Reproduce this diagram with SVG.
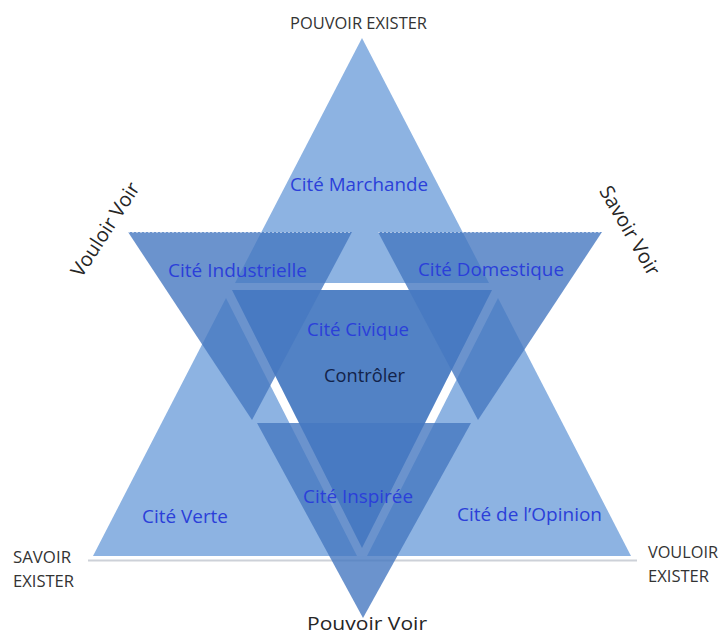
<svg xmlns="http://www.w3.org/2000/svg" width="720" height="637" viewBox="0 0 720 637">
<style>
.up{fill:#8db3e2}
.civ{fill:#5282c5}
.down{fill:#4678c0;fill-opacity:.8}
.edge{stroke:#ffffff;stroke-opacity:.5;stroke-width:1;stroke-dasharray:2 2;fill:none}
.lbl{font-family:"Open Sans","Noto Sans",sans-serif;font-size:18px;fill:#2b3fd9;text-anchor:middle}
.dark{font-family:"Open Sans","Noto Sans",sans-serif;font-size:18px;fill:#13234a;text-anchor:middle}
.cap{font-family:"Open Sans","Noto Sans",sans-serif;font-size:16px;fill:#333333}
.axis{font-family:"Open Sans","Noto Sans",sans-serif;font-size:20px;fill:#262626;text-anchor:middle}
</style>
<rect width="720" height="637" fill="#ffffff"/>

<g id="base-line">
  <line x1="88" y1="560.5" x2="637" y2="560.5" stroke="#cdd1d8" stroke-width="2"/>
</g>

<g id="cite-marchande">
  <polygon class="up" points="362,38 235,283 489,283"/>
  <text class="lbl" x="359" y="191" textLength="138" lengthAdjust="spacingAndGlyphs">Cité Marchande</text>
</g>

<g id="cite-verte">
  <polygon class="up" points="226,298 93,556 357,556"/>
  <text class="lbl" x="185" y="523" textLength="86" lengthAdjust="spacingAndGlyphs">Cité Verte</text>
</g>

<g id="cite-opinion">
  <polygon class="up" points="498,298 367,556 631,556"/>
  <text class="lbl" x="529.5" y="521" textLength="145" lengthAdjust="spacingAndGlyphs">Cité de l’Opinion</text>
</g>

<g id="cite-civique">
  <polygon class="civ" points="232,290 492,290 362,548"/>
  <text class="lbl" x="358" y="336" textLength="102" lengthAdjust="spacingAndGlyphs">Cité Civique</text>
  <text class="dark" x="364.5" y="382" textLength="81" lengthAdjust="spacingAndGlyphs">Contrôler</text>
</g>

<g id="cite-industrielle">
  <polygon class="down" points="128,232 352,232 252,420"/>
  <line class="edge" x1="128" y1="232.5" x2="352" y2="232.5"/>
  <text class="lbl" x="237.5" y="277" textLength="139" lengthAdjust="spacingAndGlyphs">Cité Industrielle</text>
</g>

<g id="cite-domestique">
  <polygon class="down" points="378,232 602,232 478,420"/>
  <line class="edge" x1="378" y1="232.5" x2="602" y2="232.5"/>
  <text class="lbl" x="491" y="276" textLength="146" lengthAdjust="spacingAndGlyphs">Cité Domestique</text>
</g>

<g id="cite-inspiree">
  <polygon class="down" points="257,423 471,423 363,618"/>
  <text class="lbl" x="358" y="503" textLength="110" lengthAdjust="spacingAndGlyphs">Cité Inspirée</text>
</g>

<g id="axis-labels">
  <text class="cap" x="358.5" y="29" text-anchor="middle" textLength="137" lengthAdjust="spacingAndGlyphs">POUVOIR EXISTER</text>
  <text class="cap" x="13" y="563" textLength="58" lengthAdjust="spacingAndGlyphs">SAVOIR</text>
  <text class="cap" x="13" y="587" textLength="61" lengthAdjust="spacingAndGlyphs">EXISTER</text>
  <text class="cap" x="648" y="558" textLength="70" lengthAdjust="spacingAndGlyphs">VOULOIR</text>
  <text class="cap" x="648" y="582" textLength="61" lengthAdjust="spacingAndGlyphs">EXISTER</text>
  <text class="axis" transform="translate(106,230) rotate(-57)" x="0" y="6" textLength="108" lengthAdjust="spacingAndGlyphs">Vouloir Voir</text>
  <text class="axis" transform="translate(629,231) rotate(60)" x="0" y="6" textLength="100" lengthAdjust="spacingAndGlyphs">Savoir Voir</text>
  <text class="axis" x="367" y="630" style="font-size:19px" textLength="120" lengthAdjust="spacingAndGlyphs">Pouvoir Voir</text>
</g>
</svg>
